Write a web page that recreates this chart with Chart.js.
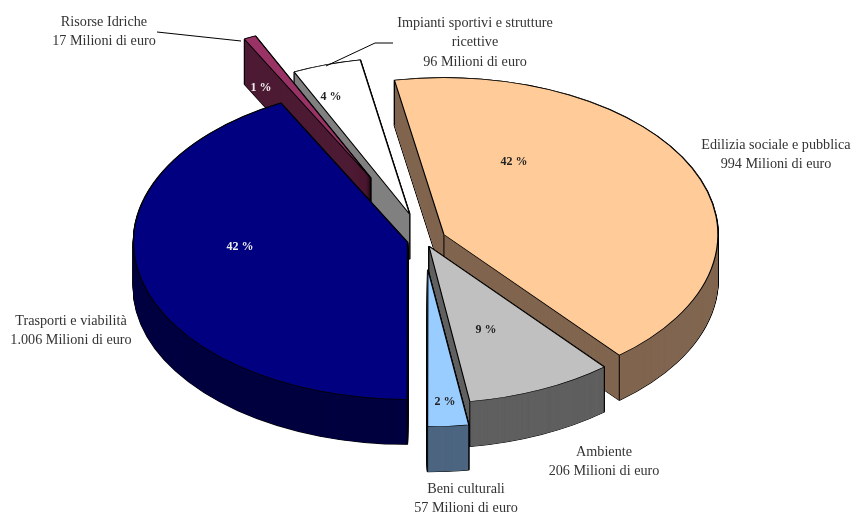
<!DOCTYPE html>
<html lang="it">
<head>
  <meta charset="UTF-8">
  <title>Ripartizione investimenti</title>
  <script src="https://cdn.jsdelivr.net/npm/chart.js"></script>
  <style>
    html, body { margin: 0; background: #fff; }
    canvas { display: block; }
  </style>
</head>
<body>
  <canvas id="pie" width="852" height="514"></canvas>

  <script>
    // data, clockwise from the start of the first slice
    const categories = ['Edilizia sociale e pubblica', 'Ambiente', 'Beni culturali', 'Trasporti e viabilità', 'Risorse Idriche', 'Impianti sportivi e strutture ricettive'];
    const amounts = [994, 206, 57, 1006, 17, 96];
    const amountTexts = ['994', '206', '57', '1.006', '17', '96'];
    const topColors = ['#FFCC99', '#C0C0C0', '#99CCFF', '#000080', '#993366', '#FFFFFF'];
    const wallColors = ['#806650', '#606060', '#4D6680', '#000040', '#4D1A33', '#808080'];

    // look of the 3d pie
    const tilt = 0.573;
    const depth = 45;
    const pull = [22, 12, 52, 17, 120, 47];
    const drawOrder = [5, 4, 0, 3, 1, 2];

    // where the texts go: [x, y of first line, line list]
    const captionSpots = [
      [776, 145, [0]],
      [604, 452, [0]],
      [466, 489, [0]],
      [71, 321, [0]],
      [104, 22, [0]],
      [475, 23, ['Impianti sportivi e strutture', 'ricettive']]
    ];
    const percentSpots = [[514, 162], [486, 330], [445, 402], [240, 247], [261, 88], [331, 97]];
    const percentColors = ['#222', '#222', '#222', '#eee', '#eee', '#222'];
    const leaders = [
      [[157, 32], [241, 41]],
      [[393, 43], [375, 43], [326, 66]]
    ];

    function ghostOf(arc, opts) {
      const ghost = Object.create(arc);
      ghost.options = Object.assign({}, arc.options, opts);
      return ghost;
    }

    const pie3d = {
      id: 'pie3d',
      beforeDatasetDraw(chart, args) {
        const ctx = chart.ctx;
        const arcs = args.meta.data;

        drawOrder.forEach(i => {
          const arc = arcs[i];
          const s = arc.startAngle, e = arc.endAngle;
          const mid = (s + e) / 2;
          const dx = Math.cos(mid) * pull[i];
          const dy = Math.sin(mid) * pull[i];

          const layer = (el, d) => {
            ctx.save();
            ctx.translate(0, arc.y);
            ctx.scale(1, tilt);
            ctx.translate(0, -arc.y);
            ctx.translate(dx, dy + d / tilt);
            el.draw(ctx);
            ctx.restore();
          };

          // side wall: black shell first, fill on top of it
          const shell = ghostOf(arc, { backgroundColor: '#000', borderColor: '#000', borderWidth: 1.8 });
          const wall = ghostOf(arc, { backgroundColor: wallColors[i], borderWidth: 0 });
          for (let d = depth; d >= 0; d--) layer(shell, d);
          for (let d = depth; d >= 0; d -= 0.25) layer(wall, d);

          // vertical edges, only where a wall next to them faces the viewer
          const toPage = (r, a) => [
            arc.x + dx + Math.cos(a) * r,
            arc.y + (dy + Math.sin(a) * r) * tilt
          ];
          const edges = [];
          if (-Math.cos(s) > 0 || Math.cos(e) > 0) edges.push(toPage(0, 0));
          if (Math.sin(s) > 0 || -Math.cos(s) > 0) edges.push(toPage(arc.outerRadius, s));
          if (Math.sin(e) > 0 || Math.cos(e) > 0) edges.push(toPage(arc.outerRadius, e));
          ctx.strokeStyle = '#000';
          ctx.lineWidth = 1;
          edges.forEach(p => {
            ctx.beginPath();
            ctx.moveTo(p[0], p[1]);
            ctx.lineTo(p[0], p[1] + depth);
            ctx.stroke();
          });

          layer(arc, 0);
        });
        return false;
      },
      afterDraw(chart) {
        const ctx = chart.ctx;
        ctx.save();

        ctx.strokeStyle = '#000';
        ctx.lineWidth = 1;
        leaders.forEach(line => {
          ctx.beginPath();
          line.forEach((p, n) => n ? ctx.lineTo(p[0], p[1]) : ctx.moveTo(p[0], p[1]));
          ctx.stroke();
        });

        ctx.textAlign = 'center';
        ctx.textBaseline = 'middle';
        ctx.fillStyle = '#333';
        ctx.font = '14.2px "Liberation Serif"';
        captionSpots.forEach((spot, i) => {
          const lines = typeof spot[2][0] === 'string' ? spot[2] : [categories[i]];
          const all = lines.concat(amountTexts[i] + ' Milioni di euro');
          all.forEach((txt, n) => ctx.fillText(txt, spot[0], spot[1] + n * 19.7));
        });

        const total = amounts.reduce((a, b) => a + b, 0);
        ctx.font = 'bold 12px "Liberation Serif"';
        percentSpots.forEach((spot, i) => {
          ctx.fillStyle = percentColors[i];
          ctx.fillText(Math.round(amounts[i] / total * 100) + ' %', spot[0], spot[1]);
        });
        ctx.restore();
      }
    };

    new Chart(document.getElementById('pie'), {
      type: 'pie',
      plugins: [pie3d],
      data: {
        labels: categories,
        datasets: [{
          data: amounts,
          backgroundColor: topColors,
          borderColor: '#000',
          borderWidth: 1.2,
          radius: 274,
          clip: false
        }]
      },
      options: {
        responsive: false,
        animation: false,
        events: [],
        rotation: -10.4,
        layout: { padding: { right: 4, bottom: 34 } },
        plugins: { legend: { display: false }, tooltip: { enabled: false } }
      }
    });
  </script>
</body>
</html>
